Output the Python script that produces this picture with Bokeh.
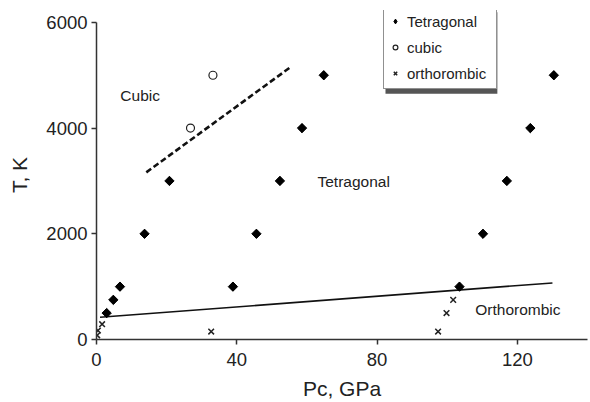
import math
from bokeh.plotting import figure
from bokeh.models import Range1d, Legend, LegendItem, Label, FixedTicker, BoxAnnotation
from bokeh.embed import file_html
from bokeh.resources import INLINE

# Data
tet_p = [2.9, 4.8, 6.7, 13.7, 20.8, 38.9, 45.6, 52.3, 58.6, 64.8, 103.5, 110.2, 117.0, 123.7, 130.4]
tet_T = [500, 750, 1000, 2000, 3000, 1000, 2000, 3000, 4000, 5000, 1000, 2000, 3000, 4000, 5000]
cub_p = [26.8, 33.2]
cub_T = [4000, 5000]
ort_p = [0.2, 0.4, 1.6, 32.7, 97.4, 99.8, 101.7]
ort_T = [80, 170, 290, 150, 150, 500, 750]
solid_p = [1.0, 130.0]
solid_T = [420, 1070]
dash_p = [14.2, 55.5]
dash_T = [3163, 5162]
x_ticks = [0, 40, 80, 120]
y_ticks = [0, 2000, 4000, 6000]

FONT = "Liberation Sans"
AX = "#333333"

p = figure(width=590, height=402, output_backend="svg", toolbar_location=None,
           x_range=Range1d(0, 140), y_range=Range1d(0, 6225),
           min_border_left=96, min_border_right=3, min_border_top=10, min_border_bottom=60)
p.outline_line_color = None
p.xgrid.visible = False
p.ygrid.visible = False
p.background_fill_color = "white"

for ax, ticks in ((p.xaxis[0], x_ticks), (p.yaxis[0], y_ticks)):
    ax.ticker = FixedTicker(ticks=ticks)
    ax.minor_tick_line_color = None
    ax.major_tick_out = 5
    ax.major_tick_in = 0
    ax.axis_line_color = AX
    ax.major_tick_line_color = AX
    ax.axis_line_width = 1.5
    ax.major_tick_line_width = 1.5
    ax.major_label_text_font = FONT
    ax.major_label_text_font_size = "18.5px"
    ax.major_label_text_color = "#222222"
    ax.axis_label_text_font = FONT
    ax.axis_label_text_font_size = "21px"
    ax.axis_label_text_font_style = "normal"
    ax.axis_label_text_color = "#222222"

p.yaxis.bounds = (0, 6000)
p.xaxis.axis_label = "Pc, GPa"
p.yaxis.axis_label = "T, K"
p.xaxis.major_label_standoff = 8
p.yaxis.major_label_standoff = 4
p.xaxis.axis_label_standoff = 8
p.yaxis.axis_label_standoff = 12

r_solid = p.line(solid_p, solid_T, line_color="#111111", line_width=1.6)
r_dash = p.line(dash_p, dash_T, line_color="#111111", line_width=2.6, line_dash="6 3")

# diamond glyph used for the legend entry (sits fully beneath the rotated squares)
r_tet_leg = p.scatter(tet_p, tet_T, marker="diamond", size=8.5, fill_color="black", line_color="black")
r_tet = p.scatter(tet_p, tet_T, marker="square", angle=math.pi / 4, size=6.6,
                  fill_color="black", line_color="black")
r_cub = p.scatter(cub_p, cub_T, marker="circle", size=8, fill_color="white", line_color="#222222", line_width=1.2)
r_ort = p.scatter(ort_p, ort_T, marker="x", size=8, line_color="#222222", line_width=1.5)

for txt, x, y in (("Cubic", 6.8, 4612), ("Tetragonal", 63.0, 2981), ("Orthorombic", 108.0, 562)):
    p.add_layout(Label(x=x, y=y, text=txt, text_font=FONT, text_font_size="15.5px",
                       text_color="#222222", text_baseline="middle", text_align="left"))

# legend shadow
p.add_layout(BoxAnnotation(left=82.4, right=114.3, top=6190, bottom=4650,
                           fill_color="#555555", fill_alpha=1.0, line_color=None, level="overlay"))

legend = Legend(items=[LegendItem(label="Tetragonal", renderers=[r_tet_leg]),
                       LegendItem(label="cubic", renderers=[r_cub]),
                       LegendItem(label="orthorombic", renderers=[r_ort])],
                location=(287, 250), orientation="vertical")
legend.label_text_font = FONT
legend.label_text_font_size = "15px"
legend.label_text_color = "#222222"
legend.glyph_width = 12
legend.glyph_height = 20
legend.label_height = 20
legend.label_width = 84
legend.spacing = 6
legend.padding = 5
legend.margin = 0
legend.label_standoff = 6
legend.border_line_color = "#222222"
legend.border_line_width = 1.2
legend.background_fill_alpha = 1.0
legend.level = "overlay"
p.add_layout(legend)

open("out.html", "w").write(file_html(p, INLINE))
